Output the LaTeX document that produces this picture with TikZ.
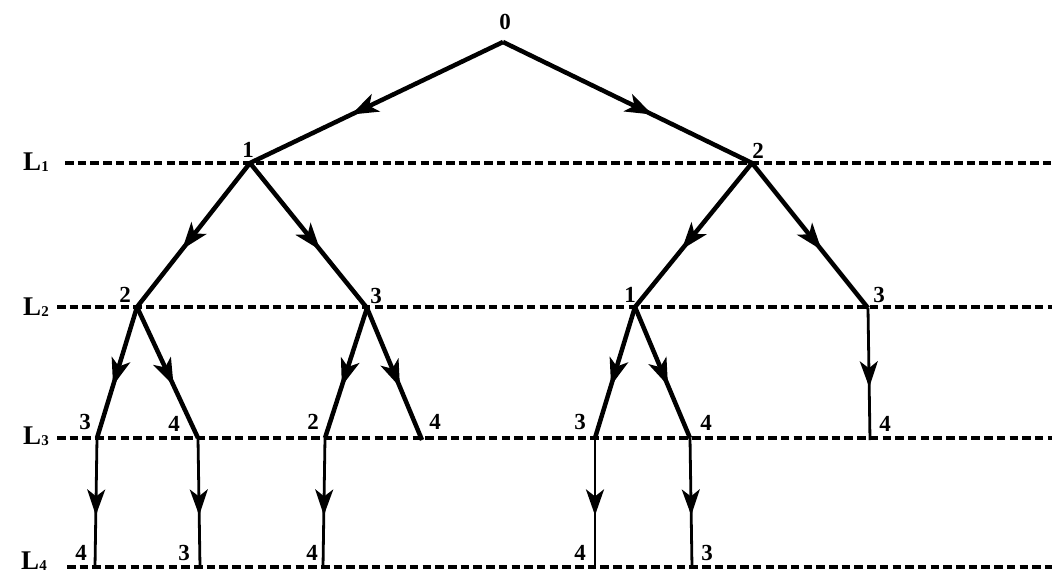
\documentclass[tikz,border=0pt]{standalone}
\usepackage{fontspec}
\setmainfont{Liberation Serif}
\usetikzlibrary{arrows.meta,decorations.markings}
\begin{document}
\begin{tikzpicture}[x=1pt,y=-1pt,
  lab/.style={font=\fontsize{23}{25}\bfseries\selectfont, inner sep=0pt},
  lvl/.style={font=\fontsize{27}{29}\bfseries\selectfont, inner sep=0pt},
  level/.style={line width=3.5pt, dash pattern=on 8.5pt off 4.2pt},
  thick edge/.style={line width=4.5pt, postaction={decorate},
    decoration={markings, mark=at position 0.6 with {\arrow{Stealth[length=27pt,width=19pt,inset=7pt]}}}},
  thin edge/.style={line width=2.8pt, postaction={decorate},
    decoration={markings, mark=at position 0.6 with {\arrow{Stealth[length=26pt,width=18pt,inset=7pt]}}}}
]
\useasboundingbox (0,0) rectangle (1055,574);
% level lines
\coordinate (l1s) at (65,163);  \coordinate (l1e) at (1052,163);
\coordinate (l2s) at (57,307);  \coordinate (l2e) at (1052,307);
\coordinate (l3s) at (57,438);  \coordinate (l3e) at (1052,438);
\coordinate (l4s) at (67,567);  \coordinate (l4e) at (1052,567);
\draw[level] (l1s) -- (l1e);
\draw[level] (l2s) -- (l2e);
\draw[level] (l3s) -- (l3e);
\draw[level] (l4s) -- (l4e);
\node[lvl] (L1) at (36,162) {L\raisebox{-0.1ex}{\fontsize{15}{15}\selectfont 1}};
\node[lvl] (L2) at (36,307) {L\raisebox{-0.1ex}{\fontsize{15}{15}\selectfont 2}};
\node[lvl] (L3) at (36,436) {L\raisebox{-0.1ex}{\fontsize{15}{15}\selectfont 3}};
\node[lvl] (L4) at (34,561) {L\raisebox{-0.1ex}{\fontsize{15}{15}\selectfont 4}};
% vertices
\coordinate (n0) at (503,42);
\coordinate (a1) at (250,163);
\coordinate (a2) at (752,163);
\coordinate (b1) at (137,307);
\coordinate (b2) at (367,308);
\coordinate (b3) at (635,307);
\coordinate (b4) at (868,308);
\coordinate (c1) at (97,438);
\coordinate (c2) at (198,438);
\coordinate (c3) at (325,438);
\coordinate (c4) at (422,440);
\coordinate (c5) at (595,438);
\coordinate (c6) at (690,438);
\coordinate (c7) at (870,440);
\coordinate (d1) at (95,567);
\coordinate (d2) at (200,567);
\coordinate (d3) at (323,567);
\coordinate (d4) at (595,567);
\coordinate (d5) at (692,567);
% labels
\node[lab] (t0) at (505,22) {0};
\node[lab] (ta1) at (248,150) {1};
\node[lab] (ta2) at (758,151) {2};
\node[lab] (tb1) at (125,295) {2};
\node[lab] (tb2) at (376,296) {3};
\node[lab] (tb3) at (630,295) {1};
\node[lab] (tb4) at (879,295) {3};
\node[lab] (tc1) at (85,422) {3};
\node[lab] (tc2) at (174,424) {4};
\node[lab] (tc3) at (313,422) {2};
\node[lab] (tc4) at (435,422) {4};
\node[lab] (tc5) at (580,422) {3};
\node[lab] (tc6) at (706,423) {4};
\node[lab] (tc7) at (885,424) {4};
\node[lab] (td1) at (81,553) {4};
\node[lab] (td2) at (184,553) {3};
\node[lab] (td3) at (312,553) {4};
\node[lab] (td4) at (580,553) {4};
\node[lab] (td5) at (707,553) {3};
% edges
\draw[thick edge] (n0) -- (a1);
\draw[thick edge] (n0) -- (a2);
\draw[thick edge] (a1) -- (b1);
\draw[thick edge] (a1) -- (b2);
\draw[thick edge] (a2) -- (b3);
\draw[thick edge] (a2) -- (b4);
\draw[thick edge] (b1) -- (c1);
\draw[thick edge] (b1) -- (c2);
\draw[thick edge] (b2) -- (c3);
\draw[thick edge] (b2) -- (c4);
\draw[thick edge] (b3) -- (c5);
\draw[thick edge] (b3) -- (c6);
\draw[thin edge] (b4) -- (c7);
\draw[thin edge] (c1) -- (d1);
\draw[thin edge] (c2) -- (d2);
\draw[thin edge] (c3) -- (d3);
\draw[thin edge] (c5) -- (d4);
\draw[thin edge] (c6) -- (d5);
\end{tikzpicture}
\end{document}
